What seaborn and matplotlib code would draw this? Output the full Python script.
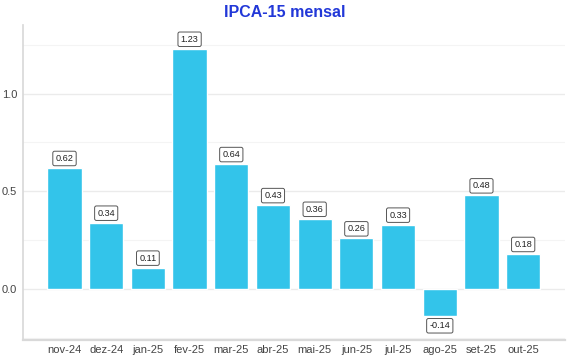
import matplotlib
matplotlib.use("Agg")
import matplotlib.pyplot as plt
import seaborn as sns
import pandas as pd
from matplotlib.ticker import MultipleLocator

months = ["nov-24", "dez-24", "jan-25", "fev-25", "mar-25", "abr-25", "mai-25",
          "jun-25", "jul-25", "ago-25", "set-25", "out-25"]
values = [0.62, 0.34, 0.11, 1.23, 0.64, 0.43, 0.36, 0.26, 0.33, -0.14, 0.48, 0.18]

df = pd.DataFrame({"mes": months, "valor": values})

sns.set_theme(style="white")
plt.rcParams['font.family'] = ['Liberation Sans', 'DejaVu Sans']

fig = plt.figure(figsize=(5.7, 3.6), dpi=100)
ax = fig.add_axes([0.04, 0.056, 0.951, 0.874])

sns.barplot(data=df, x="mes", y="valor", color="#33C4EA", saturation=1,
            width=0.82, ax=ax, zorder=3)

ax.set_xlim(-1, 12)
ax.set_ylim(-0.26, 1.35)
ax.yaxis.set_major_locator(MultipleLocator(0.5))
ax.yaxis.set_minor_locator(MultipleLocator(0.25))
ax.grid(which="major", axis="y", color="#ebebeb", linewidth=1, zorder=0)
ax.grid(which="minor", axis="y", color="#f4f4f4", linewidth=0.8, zorder=0)
ax.set_axisbelow(True)

for s in ["top", "right"]:
    ax.spines[s].set_visible(False)
ax.spines["left"].set_color("#d9d9d9")
ax.spines["bottom"].set_color("#d9d9d9")
ax.spines["bottom"].set_linewidth(1.6)

ax.set_xlabel("")
ax.set_ylabel("")
ax.tick_params(axis="both", labelsize=8, colors="#444444", length=0, pad=4)
ax.tick_params(axis="y", which="minor", length=0)
ax.set_yticklabels([f"{t:.1f}" for t in ax.get_yticks()])

for i, v in enumerate(values):
    off = 0.025 if v >= 0 else -0.025
    ax.text(i, v + off, f"{v:.2f}", ha="center", va="bottom" if v >= 0 else "top",
            fontsize=6.6, color="#222222", zorder=5,
            bbox=dict(boxstyle="round,pad=0.3,rounding_size=0.2", fc="white",
                      ec="#555555", lw=0.7))

fig.suptitle("IPCA-15 mensal", x=0.5, y=0.985, fontsize=11.5, fontweight="bold",
             color="#2238D8")

fig.savefig("out.png", dpi=100)
